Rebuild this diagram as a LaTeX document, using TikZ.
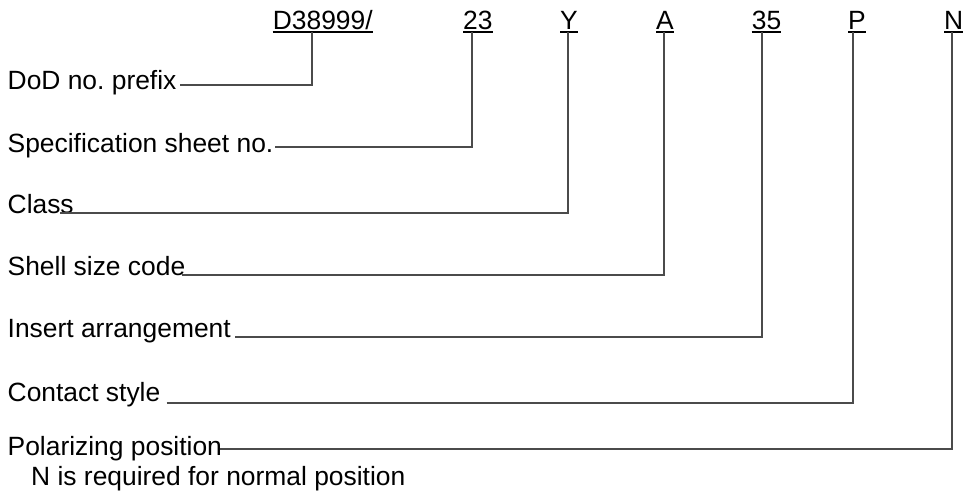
\documentclass[tikz,border=0pt]{standalone}
\usepackage{fontspec}
\setmainfont{Liberation Sans}
\frenchspacing
\definecolor{linegray}{RGB}{75,75,75}
\begin{document}
\begin{tikzpicture}[x=1pt,y=-1pt,
  lbl/.style={anchor=base west,inner sep=0pt,font=\fontsize{26.4}{30}\selectfont},
  code/.style={anchor=base west,inner sep=0pt,font=\fontsize{26.4}{30}\selectfont},
  uline/.style={line width=1.8pt,black},
  conn/.style={line width=1.8pt,linegray,line join=miter}]
\useasboundingbox (0,0) rectangle (964,498);
% codes on top
\node[code] (cD) at (272.7,29) {D38999/};
\node[code] (c23) at (463,29) {23};
\node[code] (cY) at (560,29) {Y};
\node[code] (cA) at (656,29) {A};
\node[code] (c35) at (751.7,29) {35};
\node[code] (cP) at (848,29) {P};
\node[code] (cN) at (944,29) {N};
\foreach \n in {cD,c23,cY,cA,c35,cP,cN}
  \draw[uline] ([yshift=-2.7pt]\n.base west) -- ([yshift=-2.7pt]\n.base east);
% left labels
\node[lbl] (lDoD) at (7.5,89) {DoD no.\ prefix};
\node[lbl] (lSpec) at (7.5,152.5) {Specification sheet no.};
\node[lbl] (lClass) at (7.5,213.3) {Class};
\node[lbl] (lShell) at (7.5,275.5) {Shell size code};
\node[lbl] (lIns) at (7.5,337) {Insert arrangement};
\node[lbl] (lCon) at (7.5,401) {Contact style};
\node[lbl] (lPol) at (7.5,455) {Polarizing position};
\node[lbl] (lNote) at (31,485) {N is required for normal position};
% connector endpoints
\coordinate (sDoD) at (180,85);
\coordinate (sSpec) at (275,146.7);
\coordinate (sClass) at (60,212.7);
\coordinate (sShell) at (181.7,275);
\coordinate (sIns) at (235,336.7);
\coordinate (sCon) at (166.7,403.3);
\coordinate (sPol) at (220,449.3);
\coordinate (tD) at (311.7,31.7);
\coordinate (t23) at (472,31.7);
\coordinate (tY) at (568.3,31.7);
\coordinate (tA) at (663.7,31.7);
\coordinate (t35) at (761.7,31.7);
\coordinate (tP) at (853.3,31.7);
\coordinate (tN) at (951.7,31.7);
\draw[conn] (sDoD) -| (tD);
\draw[conn] (sSpec) -| (t23);
\draw[conn] (sClass) -| (tY);
\draw[conn] (sShell) -| (tA);
\draw[conn] (sIns) -| (t35);
\draw[conn] (sCon) -| (tP);
\draw[conn] (sPol) -| (tN);
\end{tikzpicture}
\end{document}
